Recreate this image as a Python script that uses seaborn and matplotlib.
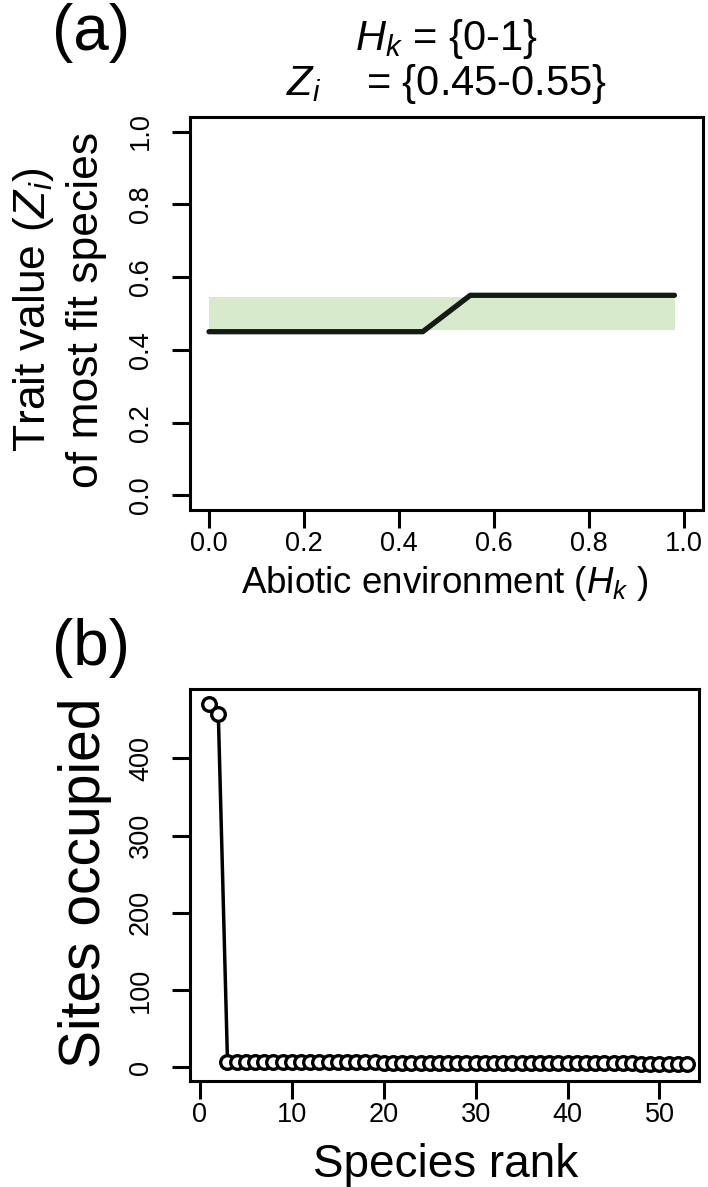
import numpy as np
import pandas as pd
import matplotlib
matplotlib.use("Agg")
import matplotlib.pyplot as plt
import seaborn as sns

# ---- data -------------------------------------------------------------
# (a) trait value of the most fit species along the abiotic gradient
habitat = [0.0, 0.45, 0.55, 0.98]
trait_best = [0.45, 0.45, 0.55, 0.55]
# shaded range of trait values present in the pool
band_x = [0.0, 0.98]
band_low = 0.455
band_high = 0.545

# (b) rank-occupancy of species
species_rank = np.arange(1, 54)
sites_occupied = [471, 458,
                  7, 7, 6, 6, 6, 6, 6, 6, 6, 6, 6, 6, 6, 6, 6, 6, 6,
                  5, 5, 5, 5, 5, 5, 5, 5, 5, 5, 5, 5, 5, 5, 5, 5, 5, 5,
                  5, 5, 5, 5, 5, 5, 5, 5, 5, 5, 4, 4, 4, 4, 4, 4]

a_xticks = [0.0, 0.2, 0.4, 0.6, 0.8, 1.0]
a_yticks = [0.0, 0.2, 0.4, 0.6, 0.8, 1.0]
b_xticks = [0, 10, 20, 30, 40, 50]
b_yticks = [0, 100, 200, 300, 400]

# ---- style ------------------------------------------------------------
sns.set_theme(style="white")
plt.rcParams["font.family"] = ["Liberation Sans", "DejaVu Sans"]
plt.rcParams["mathtext.fontset"] = "custom"
plt.rcParams["mathtext.rm"] = "Liberation Sans"
plt.rcParams["mathtext.it"] = "Liberation Sans:italic"
plt.rcParams["text.color"] = "black"
plt.rcParams["axes.labelcolor"] = "black"

W, H = 708, 1187
fig = plt.figure(figsize=(W / 100, H / 100), dpi=100)


def box(l, t, r, b):
    return [l / W, 1 - b / H, (r - l) / W, (b - t) / H]


ax_a = fig.add_axes(box(190, 117, 703, 510))
ax_b = fig.add_axes(box(190, 689, 699, 1081))

tick_fs = 19.5
for ax in (ax_a, ax_b):
    for s in ax.spines.values():
        s.set_linewidth(2.2)
        s.set_color("black")
    ax.tick_params(axis="both", direction="out", length=13, width=2.2,
                   color="black", labelsize=tick_fs, labelcolor="black",
                   bottom=True, left=True)
    ax.tick_params(axis="y", labelrotation=90, pad=13)
    ax.tick_params(axis="x", pad=2)
    ax.grid(False)

# ---- panel (a) --------------------------------------------------------
ax_a.fill_between(band_x, [band_low] * 2, [band_high] * 2,
                  color="#d7eacb", linewidth=0, zorder=1)
sns.lineplot(x=habitat, y=trait_best, ax=ax_a, color="#141a14",
             linewidth=3.8, solid_capstyle="round", solid_joinstyle="round",
             zorder=3)
ax_a.set_xlim(-0.04, 1.04)
ax_a.set_ylim(-0.04, 1.04)
ax_a.set_xticks(a_xticks)
ax_a.set_yticks(a_yticks)
ax_a.set_xticklabels([f"{v:.1f}" for v in a_xticks])
ax_a.set_yticklabels([f"{v:.1f}" for v in a_yticks])
for lab in ax_a.get_yticklabels():
    lab.set_va("center")

ax_a.set_xlabel(r"Abiotic environment ($H_k$ )", fontsize=26.5,
                va="baseline")
ax_a.xaxis.set_label_coords(0.497, -0.211)
ax_a.set_ylabel("Trait value ($Z_i$)\nof most fit species", fontsize=32,
                va="center", linespacing=1.3)
ax_a.yaxis.set_label_coords(-0.255, 0.509)

ax_a.text(0.5, 1.170, r"$H_k$ = {0-1}", transform=ax_a.transAxes,
          ha="center", va="baseline", fontsize=30)
ax_a.text(0.5, 1.056, r"$Z_i$    = {0.45-0.55}", transform=ax_a.transAxes,
          ha="center", va="baseline", fontsize=30)

# ---- panel (b) --------------------------------------------------------
sns.lineplot(x=species_rank, y=sites_occupied, ax=ax_b, color="black",
             linewidth=2.5, marker="o", markersize=9.8, markeredgewidth=2.4,
             markerfacecolor="white", markeredgecolor="black")
ax_b.set_xlim(-1.08, 54.3)
ax_b.set_ylim(-18, 490)
ax_b.set_xticks(b_xticks)
ax_b.set_yticks(b_yticks)
ax_b.set_xticklabels([str(v) for v in b_xticks])
ax_b.set_yticklabels([str(v) for v in b_yticks])
for lab in ax_b.get_yticklabels():
    lab.set_va("center")

ax_b.set_xlabel("Species rank", fontsize=33, va="baseline")
ax_b.xaxis.set_label_coords(0.503, -0.245)
ax_b.set_ylabel("Sites occupied", fontsize=41, va="center")
ax_b.yaxis.set_label_coords(-0.206, 0.505)

# panel tags
fig.text(91 / W, 1 - 33 / H, "(a)", fontsize=46, ha="center", va="center")
fig.text(91 / W, 1 - 648 / H, "(b)", fontsize=46, ha="center", va="center")

fig.savefig("out.png", dpi=100, facecolor="white")
